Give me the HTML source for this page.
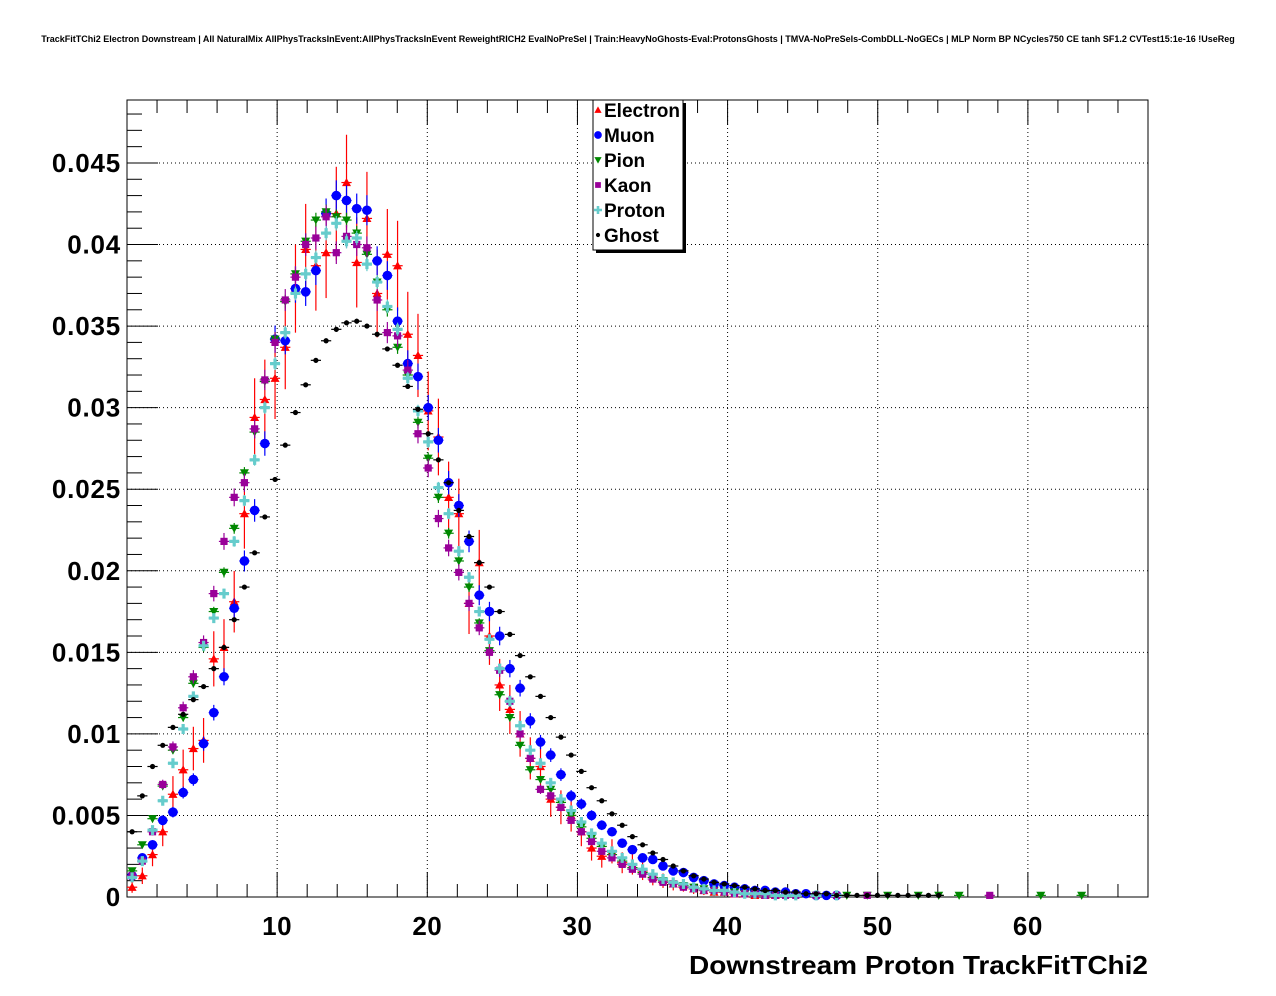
<!DOCTYPE html>
<html><head><meta charset="utf-8"><style>
html,body{margin:0;padding:0;background:#fff;}
svg{display:block;font-family:"Liberation Sans",Arial,sans-serif;}
</style></head><body>
<svg id="chart" width="1276" height="996" viewBox="0 0 1276 996" xmlns="http://www.w3.org/2000/svg">
<rect width="1276" height="996" fill="#fff"/>
<text x="638" y="42" font-size="9" font-weight="bold" text-anchor="middle">TrackFitTChi2 Electron Downstream | All NaturalMix AllPhysTracksInEvent:AllPhysTracksInEvent ReweightRICH2 EvalNoPreSel | Train:HeavyNoGhosts-Eval:ProtonsGhosts | TMVA-NoPreSels-CombDLL-NoGECs | MLP Norm BP NCycles750 CE tanh SF1.2 CVTest15:1e-16 !UseReg</text>
<g id="grid"></g><g id="axes"></g><g id="marks"></g><g id="legend"></g>
<text x="1148" y="974" font-size="26" font-weight="bold" text-anchor="end" textLength="459" lengthAdjust="spacingAndGlyphs">Downstream Proton TrackFitTChi2</text>
</svg>
<script>
const xTicks=[10,20,30,40,50,60];
const yTicks=[0,0.005,0.01,0.015,0.02,0.025,0.03,0.035,0.04,0.045];
const yTickLabels=["0","0.005","0.01","0.015","0.02","0.025","0.03","0.035","0.04","0.045"];
const seriesNames=["Electron","Muon","Pion","Kaon","Proton","Ghost"];
const electron=[0.0006,0.0013,0.0026,0.0040,0.0063,0.0078,0.0091,0.0096,0.0146,0.0153,0.0181,0.0235,0.0294,0.0305,0.0318,0.0337,0.0373,0.0397,0.0387,0.0395,0.0419,0.0438,0.0389,0.0416,0.0370,0.0394,0.0387,0.0345,0.0332,0.0298,0.0282,0.0245,0.0235,0.0180,0.0205,0.0160,0.0130,0.0115,0.0100,0.0085,0.0080,0.0060,0.0055,0.0050,0.0040,0.0030,0.0025,0.0028,0.0021,0.0020,0.0016,0.0012,0.0010,0.0008,0.0007,0.0005,0.0004,0.0003,0.0003,0.0002,0.0002,0.0001,0.0001,0.0001];
const muon=[0.0013,0.0024,0.0032,0.0047,0.0052,0.0064,0.0072,0.0094,0.0113,0.0135,0.0177,0.0206,0.0237,0.0278,0.0342,0.0341,0.0373,0.0371,0.0384,0.0419,0.0430,0.0427,0.0422,0.0421,0.0390,0.0381,0.0353,0.0327,0.0319,0.0300,0.0280,0.0254,0.0240,0.0218,0.0185,0.0175,0.0160,0.0140,0.0128,0.0108,0.0095,0.0087,0.0075,0.0062,0.0057,0.0050,0.0044,0.0040,0.0033,0.0029,0.0024,0.0023,0.0019,0.0016,0.0015,0.0012,0.0010,0.0008,0.0007,0.0006,0.0005,0.0004,0.0004,0.0003,0.0003,0.0002,0.0002,0.0001,0.0001,0.0001];
const pion=[0.0016,0.0032,0.0048,0.0068,0.0090,0.0110,0.0131,0.0153,0.0175,0.0199,0.0226,0.0260,0.0285,0.0316,0.0342,0.0365,0.0382,0.0402,0.0415,0.0420,0.0417,0.0415,0.0407,0.0394,0.0377,0.0360,0.0337,0.0320,0.0291,0.0269,0.0245,0.0223,0.0206,0.0190,0.0168,0.0151,0.0124,0.0110,0.0093,0.0078,0.0072,0.0066,0.0058,0.0050,0.0043,0.0036,0.0031,0.0026,0.0022,0.0018,0.0015,0.0012,0.0010,0.0008,0.0007,0.0006,0.0005,0.0004,0.0003,0.0003,0.0002,0.0002,0.0002,0.0001,0.0001,0.0001,0,0.0001,0,0,0.0001,0,0.0001,0,0.0001,0,0,0.0001,0,0.0001,0,0.0001,0,0,0,0,0,0,0,0.0001,0,0,0,0.0001];
const kaon=[0.0013,0.0022,0.0040,0.0069,0.0092,0.0116,0.0135,0.0156,0.0186,0.0218,0.0245,0.0254,0.0287,0.0317,0.0340,0.0366,0.0380,0.0400,0.0404,0.0417,0.0395,0.0405,0.0400,0.0398,0.0366,0.0346,0.0344,0.0323,0.0284,0.0263,0.0232,0.0214,0.0199,0.0180,0.0165,0.0150,0.0139,0.0120,0.0100,0.0085,0.0066,0.0062,0.0055,0.0047,0.0040,0.0034,0.0028,0.0024,0.0020,0.0017,0.0014,0.0011,0.0009,0.0008,0.0006,0.0005,0.0004,0.0004,0.0003,0.0002,0.0002,0.0002,0.0001,0.0001,0.0001,0.0001,0,0.0001,0,0.0001,0,0,0.0001,0,0,0,0,0,0,0,0,0,0,0,0.0001];
const proton=[0.0012,0.0022,0.0041,0.0059,0.0082,0.0103,0.0123,0.0154,0.0171,0.0186,0.0218,0.0243,0.0268,0.0300,0.0327,0.0346,0.0370,0.0382,0.0392,0.0407,0.0413,0.0402,0.0404,0.0388,0.0377,0.0362,0.0348,0.0318,0.0298,0.0279,0.0251,0.0235,0.0212,0.0196,0.0175,0.0158,0.0140,0.0120,0.0105,0.0090,0.0082,0.0070,0.0060,0.0053,0.0046,0.0039,0.0033,0.0028,0.0024,0.0020,0.0017,0.0014,0.0011,0.0009,0.0008,0.0006,0.0005,0.0004,0.0004,0.0003,0.0002,0.0002,0.0002,0.0001,0.0001,0.0001,0,0.0001,0,0.0001];
const ghost=[0.0040,0.0062,0.0080,0.0093,0.0104,0.0112,0.0121,0.0129,0.0140,0.0153,0.0170,0.0190,0.0211,0.0233,0.0256,0.0277,0.0297,0.0314,0.0329,0.0341,0.0348,0.0352,0.0353,0.0350,0.0345,0.0336,0.0326,0.0313,0.0299,0.0284,0.0268,0.0254,0.0237,0.0221,0.0205,0.0190,0.0175,0.0161,0.0148,0.0135,0.0123,0.0110,0.0098,0.0087,0.0077,0.0067,0.0059,0.0051,0.0044,0.0037,0.0032,0.0027,0.0023,0.0019,0.0016,0.0013,0.0011,0.0009,0.0008,0.0007,0.0006,0.0005,0.0004,0.0004,0.0003,0.0003,0.0002,0.0002,0.0002,0.0001,0.0001,0.0001,0.0001,0.0001,0.0001,0.0001,0.0001,0.0001,0.0001,0.0001];

const X0=127,X1=1148,Y0=897,Y1=100,XMIN=0,XMAX=68,YMAX=0.04886,BW=0.68;
const sx=v=>X0+(v-XMIN)/(XMAX-XMIN)*(X1-X0);
const sy=v=>Y0-v/YMAX*(Y0-Y1);
const NS="http://www.w3.org/2000/svg";
function mk(t,a,p){const e=document.createElementNS(NS,t);for(const k in a)e.setAttribute(k,a[k]);p.appendChild(e);return e;}
const grid=document.getElementById('grid'),axes=document.getElementById('axes'),marks=document.getElementById('marks'),leg=document.getElementById('legend');

xTicks.forEach(t=>{const l=mk('line',{x1:sx(t),x2:sx(t),y1:Y0,y2:Y1,stroke:'#000','stroke-width':1,'stroke-dasharray':'1,3'},grid);
});
yTicks.forEach(t=>{if(t===0)return;const l=mk('line',{x1:X0,x2:X1,y1:sy(t),y2:sy(t),stroke:'#000','stroke-width':1,'stroke-dasharray':'1,3'},grid);
});

const fr=mk('rect',{x:X0,y:Y1,width:X1-X0,height:Y0-Y1,fill:'none',stroke:'#000','stroke-width':1},axes);

for(let v=2;v<=XMAX;v+=2){const maj=v%10===0;const len=maj?25:13;
 mk('line',{x1:sx(v),x2:sx(v),y1:Y0,y2:Y0-len,stroke:'#000'},axes);
 mk('line',{x1:sx(v),x2:sx(v),y1:Y1,y2:Y1+len,stroke:'#000'},axes);}
for(let i=1;i*0.001<YMAX;i++){const v=i*0.001;const len=(i%5===0)?31:15;
 mk('line',{x1:X0,x2:X0+len,y1:sy(v),y2:sy(v),stroke:'#000'},axes);}
xTicks.forEach(t=>{const e=mk('text',{x:sx(t),y:935,'font-size':26,'font-weight':'bold','text-anchor':'middle','letter-spacing':'0.5'},axes);e.textContent=t;
});
yTicks.forEach((t,i)=>{const e=mk('text',{x:121,y:sy(t)+9,'font-size':26,'font-weight':'bold','text-anchor':'end','letter-spacing':'0.8'},axes);e.textContent=yTickLabels[i];
});

const colors=['#ff0000','#0000ff','#008800','#990099','#66cccc','#000000'];
const errK=[0.014,0.0045,0.0022,0.0035,0.0022,0.0008];
const data=[electron,muon,pion,kaon,proton,ghost];
function marker(type,x,y,c,p,scale){scale=scale||1;
 if(type===0){const s=4.5*scale;return mk('polygon',{points:`${x},${y-s} ${x-s},${y+s*0.8} ${x+s},${y+s*0.8}`,fill:c},p);}
 if(type===1)return mk('circle',{cx:x,cy:y,r:4.8*scale,fill:c},p);
 if(type===2){const s=4.5*scale;return mk('polygon',{points:`${x-s},${y-s*0.8} ${x+s},${y-s*0.8} ${x},${y+s}`,fill:c},p);}
 if(type===3){const s=3.6*scale;return mk('rect',{x:x-s,y:y-s,width:2*s,height:2*s,fill:c},p);}
 if(type===4){const s=5*scale,w=1.6*scale;return mk('path',{d:`M${x-w},${y-s}h${2*w}v${s-w}h${s-w}v${2*w}h${-(s-w)}v${s-w}h${-2*w}v${-(s-w)}h${-(s-w)}v${-2*w}h${s-w}z`,fill:c},p);}
 return mk('circle',{cx:x,cy:y,r:2.6*scale,fill:c},p);}
data.forEach((arr,si)=>{const g=mk('g',{},marks);
 
 arr.forEach((v,i)=>{if(v<=0)return;const xc=(i+0.5)*BW;const x=sx(xc),y=sy(v);
  const e=errK[si]*Math.sqrt(v);
  mk('line',{x1:sx(i*BW),x2:sx((i+1)*BW),y1:y,y2:y,stroke:colors[si],'stroke-width':1.2},g);
  mk('line',{x1:x,x2:x,y1:sy(v+e),y2:sy(Math.max(0,v-e)),stroke:colors[si],'stroke-width':1.2},g);
  const m=marker(si,x,y,colors[si],g);
  
  
 });});

mk('rect',{x:596,y:103,width:90,height:150,fill:'#000'},leg);
const lb=mk('rect',{x:593,y:100,width:90,height:150,fill:'#fff',stroke:'#000'},leg);

seriesNames.forEach((n,i)=>{const y=110+i*25;
 const m=marker(i,598,y,colors[i],leg,0.8);
 
 const t=mk('text',{x:604,y:y+7,'font-size':19,'font-weight':'bold'},leg);t.textContent=n;
 });
</script>
</body></html>
